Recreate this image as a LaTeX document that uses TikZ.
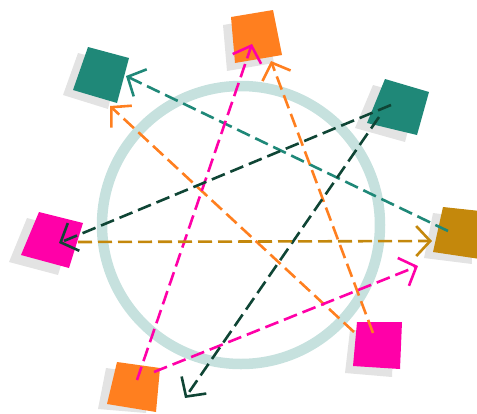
\documentclass[tikz,border=0pt]{standalone}
\usetikzlibrary{arrows.meta}
\definecolor{tealsq}{HTML}{1F8878}
\definecolor{orangesq}{HTML}{FF7F1F}
\definecolor{magentasq}{HTML}{FF00A8}
\definecolor{goldsq}{HTML}{C4880C}
\definecolor{darkln}{HTML}{0F4535}
\definecolor{shadowc}{HTML}{E3E3E3}
\definecolor{ringc}{HTML}{C6E1DE}
\tikzset{
  shadowsq/.style={fill=shadowc},
  ln/.style={line width=2.6pt, dash pattern=on 14pt off 6pt, line cap=butt,
    -{Straight Barb[length=14pt,width=30pt,line width=2.6pt]}},
}
\begin{document}
\begin{tikzpicture}[x=1pt,y=-1pt]
\useasboundingbox (0,0) rectangle (477,413);
% ring
\coordinate (ctr) at (241,225);
\draw[ringc, line width=10.5pt] (ctr) circle (139);
% shadows
\fill[shadowsq] (78,53) -- (119,64) -- (108,109) -- (63,95) -- cycle;
\fill[shadowsq] (223,25) -- (265,18) -- (274,63) -- (227,71) -- cycle;
\fill[shadowsq] (373,85) -- (417,97) -- (405,142) -- (355,128) -- cycle;
\fill[shadowsq] (27,218) -- (72,230) -- (58,275) -- (9,262) -- cycle;
\fill[shadowsq] (433,213) -- (471,218) -- (472,264) -- (424,258) -- cycle;
\fill[shadowsq] (350,330) -- (394,330) -- (392,377) -- (345,373) -- cycle;
\fill[shadowsq] (106,368) -- (150,374) -- (146,413) -- (98,409) -- cycle;
% squares
\fill[tealsq] (88,47) -- (129,58) -- (117,103) -- (73,90) -- cycle;
\fill[orangesq] (231,17) -- (273,10) -- (282,55) -- (235,63) -- cycle;
\fill[tealsq] (385,79) -- (429,92) -- (417,135) -- (367,123) -- cycle;
\fill[magentasq] (39,212) -- (83,223) -- (69,268) -- (21,255) -- cycle;
\fill[goldsq] (443,207) -- (480,211) -- (480,259) -- (433,252) -- cycle;
\fill[magentasq] (357,322) -- (402,322) -- (400,369) -- (353,366) -- cycle;
\fill[orangesq] (117,362) -- (160,368) -- (156,412) -- (107,404) -- cycle;
% connector end points
\coordinate (gS) at (448,231);   \coordinate (tlT) at (126,76);
\coordinate (mbA) at (354,332);  \coordinate (tlO) at (110,106);
\coordinate (mbB) at (373,333);  \coordinate (otT) at (271,61);
\coordinate (obA) at (137,380);  \coordinate (otM) at (252,44);
\coordinate (obB) at (154,372);  \coordinate (gM) at (418,266);
\coordinate (trA) at (391,105);  \coordinate (mlT) at (59,243);
\coordinate (trB) at (379,117);  \coordinate (bD) at (185,398);
\coordinate (mlS) at (78,242);   \coordinate (gG) at (432,241);
% connectors
\draw[ln, tealsq] (gS) -- (tlT);
\draw[ln, orangesq] (mbA) -- (tlO);
\draw[ln, orangesq] (mbB) -- (otT);
\draw[ln, magentasq] (obA) -- (otM);
\draw[ln, magentasq] (obB) -- (gM);
\draw[ln, darkln] (trA) -- (mlT);
\draw[ln, darkln] (trB) -- (bD);
\draw[ln, goldsq] (mlS) -- (gG);
\end{tikzpicture}
\end{document}
